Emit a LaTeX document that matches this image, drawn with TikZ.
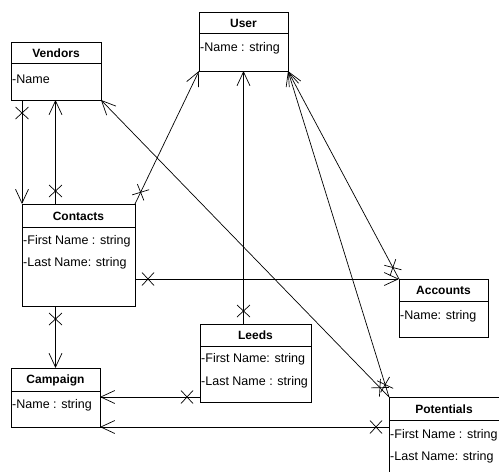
\documentclass[tikz,border=0pt]{standalone}
\usepackage{fontspec}
\setmainfont{Liberation Sans}
\usetikzlibrary{arrows.meta,decorations.markings}
\begin{document}
\begin{tikzpicture}[x=1pt,y=-1pt,
  box/.style={draw, line width=0.8pt, inner sep=0pt, outer sep=0pt, anchor=north west},
  ttl/.style={font=\fontsize{12}{14}\selectfont\bfseries, inner sep=0pt},
  attr/.style={font=\fontsize{12.5}{14}\selectfont, inner sep=0pt, anchor=west},
  divider/.style={line width=0.8pt},
  rel/.style={line width=0.7pt, -{Straight Barb[length=14pt,width=13pt,line width=0.7pt]},
    postaction={decorate},
    decoration={markings, mark=at position 13pt with {\draw[-,line width=0.7pt] (-6pt,-6.5pt)--(6pt,6.5pt) (-6pt,6.5pt)--(6pt,-6.5pt);}}},
]
\useasboundingbox (0,0) rectangle (499,472);
\clip (0,0) rectangle (499,472);

% boxes
\node[box, minimum width=90pt, minimum height=58pt] (vend) at (11,42) {};
\node[box, minimum width=89pt, minimum height=59pt] (user) at (199,12) {};
\node[box, minimum width=113pt, minimum height=102pt] (cont) at (22,204) {};
\node[box, minimum width=89pt, minimum height=58pt] (acct) at (399,279) {};
\node[box, minimum width=111pt, minimum height=78pt] (leeds) at (200,324) {};
\node[box, minimum width=89pt, minimum height=59pt] (camp) at (11,368) {};
\node[box, minimum width=140pt, minimum height=100pt] (pot) at (389,397) {};

% dividers
\draw[divider] (11,63) -- (101,63);
\draw[divider] (199,33) -- (288,33);
\draw[divider] (22,227) -- (135,227);
\draw[divider] (399,301) -- (488,301);
\draw[divider] (200,346) -- (311,346);
\draw[divider] (11,391) -- (100,391);
\draw[divider] (389,420) -- (529,420);

% titles
\node[ttl] (vendT) at (56,53) {Vendors};
\node[ttl] (userT) at (243.5,23) {User};
\node[ttl] (contT) at (78.5,216) {Contacts};
\node[ttl] (acctT) at (443.5,290.5) {Accounts};
\node[ttl] (leedsT) at (255.5,335.5) {Leeds};
\node[ttl] (campT) at (55.5,380) {Campaign};
\node[ttl] (potT) at (444,409) {Potentials};

% attributes
\node[attr] (vendA) at (12,79) {-Name};
\node[attr] (userA) at (200,48) {-Name : string};
\node[attr] (contA) at (23,241) {-First Name : string};
\node[attr] (contB) at (23,263) {-Last Name: string};
\node[attr] (acctA) at (400,316) {-Name: string};
\node[attr] (leedsA) at (201,359) {-First Name: string};
\node[attr] (leedsB) at (201,382) {-Last Name : string};
\node[attr] (campA) at (12,405) {-Name : string};
\node[attr] (potA) at (390,435) {-First Name : string};
\node[attr] (potB) at (390,457) {-Last Name: string};

% connectors
\draw[rel] (vend.south -| cont.west) -- (cont.north west);
\draw[rel] (cont.north -| camp.north) -- (vend.south -| camp.north);
\draw[rel] (cont.north east) -- (user.south west);
\draw[rel] (pot.north west) -- (vend.south east);
\draw[rel] (leeds.north -| user.south) -- (user.south);
\draw[rel] (acct.north west) -- (user.south east);
\draw[rel] (pot.north west) -- (user.south east);
\draw[rel] (cont.east |- acct.north) -- (acct.north west);
\draw[rel] (cont.south -| camp.north) -- (camp.north);
\path ([yshift=5pt]leeds.south west) coordinate (lc);
\draw[rel] (lc) -- (lc -| camp.east);
\draw[rel] (pot.west |- camp.south) -- (camp.south east);
\end{tikzpicture}
\end{document}
